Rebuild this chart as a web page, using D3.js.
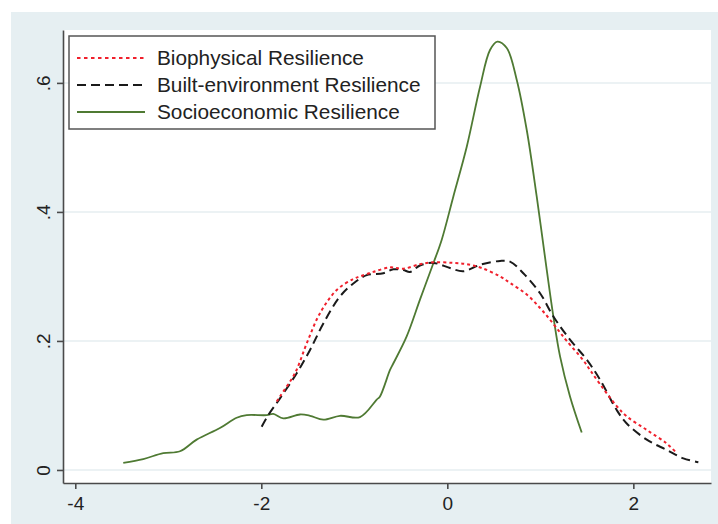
<!DOCTYPE html>
<html>
<head>
<meta charset="utf-8">
<script src="https://cdn.jsdelivr.net/npm/d3@7"></script>
<style>
  body { margin: 0; background: #fff; }
  svg text { font-family: "Liberation Sans", Arial, sans-serif; fill: #222; }
</style>
</head>
<body>
<svg id="chart" width="718" height="524"></svg>
<script>
// kernel density curves, [x, density]
var biophysical = [
  [-1.834, 0.106], [-1.799, 0.114], [-1.638, 0.150], [-1.512, 0.196], [-1.369, 0.243],
  [-1.189, 0.279], [-1.011, 0.296], [-0.939, 0.300], [-0.796, 0.307], [-0.616, 0.314],
  [-0.473, 0.312], [-0.294, 0.319], [-0.151, 0.322], [0.065, 0.321], [0.209, 0.319],
  [0.37, 0.313], [0.567, 0.300], [0.674, 0.290], [0.854, 0.272], [0.997, 0.251],
  [1.104, 0.233], [1.212, 0.213], [1.284, 0.200], [1.462, 0.170], [1.534, 0.155],
  [1.642, 0.133], [1.821, 0.099], [1.929, 0.083], [2.144, 0.062], [2.359, 0.041],
  [2.467, 0.026]
];
var builtEnv = [
  [-1.996, 0.067], [-1.925, 0.085], [-1.799, 0.111], [-1.619, 0.150], [-1.476, 0.186],
  [-1.333, 0.227], [-1.154, 0.269], [-1.011, 0.289], [-0.867, 0.302], [-0.688, 0.305],
  [-0.581, 0.311], [-0.473, 0.310], [-0.401, 0.307], [-0.294, 0.317], [-0.151, 0.321],
  [0.029, 0.313], [0.172, 0.308], [0.352, 0.318], [0.567, 0.324], [0.674, 0.323],
  [0.817, 0.305], [0.997, 0.274], [1.140, 0.238], [1.319, 0.202], [1.499, 0.171],
  [1.642, 0.140], [1.821, 0.093], [1.929, 0.072], [2.144, 0.047], [2.359, 0.031],
  [2.538, 0.018], [2.699, 0.012]
];
var socioeconomic = [
  [-3.484, 0.011], [-3.269, 0.017], [-3.054, 0.026], [-2.874, 0.029], [-2.695, 0.047],
  [-2.445, 0.065], [-2.265, 0.081], [-2.157, 0.085], [-1.942, 0.085], [-1.871, 0.087],
  [-1.763, 0.080], [-1.584, 0.086], [-1.476, 0.084], [-1.333, 0.078], [-1.154, 0.084],
  [-0.939, 0.082], [-0.759, 0.109], [-0.724, 0.114], [-0.616, 0.155], [-0.581, 0.165],
  [-0.437, 0.207], [-0.294, 0.264], [-0.151, 0.320], [-0.060, 0.357], [0.065, 0.424],
  [0.209, 0.501], [0.352, 0.594], [0.459, 0.651], [0.538, 0.664], [0.639, 0.654],
  [0.746, 0.605], [0.854, 0.527], [0.961, 0.424], [1.069, 0.310], [1.140, 0.238],
  [1.212, 0.176], [1.319, 0.114], [1.445, 0.058]
];
var seriesNames = ["Biophysical Resilience", "Built-environment Resilience", "Socioeconomic Resilience"];
var xTicks = [-4, -2, 0, 2];
var xTickLabels = ["-4", "-2", "0", "2"];
var yTicks = [0, 0.2, 0.4, 0.6];
var yTickLabels = ["0", ".2", ".4", ".6"];

var styles = [
  { color: "#f0202c", dash: "3,3", legendDash: "3.5,3.5" },
  { color: "#1a1a1a", dash: "9,5", legendDash: "9,5" },
  { color: "#4f7a33", dash: null, legendDash: null }
];
var allSeries = [biophysical, builtEnv, socioeconomic];

var svg = d3.select("#chart");

// outer graph region
svg.append("rect")
  .attr("x", 11).attr("y", 12).attr("width", 707).attr("height", 512)
  .attr("fill", "#e6eff2");

var x = d3.scaleLinear().domain([-4.132, 2.835]).range([63, 711]);
var y = d3.scaleLinear().domain([-0.0202, 0.682]).range([483, 30]);

// plot region
svg.append("rect")
  .attr("x", 63).attr("y", 30).attr("width", 648).attr("height", 453)
  .attr("fill", "#fff");

svg.append("g").selectAll("line")
  .data(yTicks)
  .enter().append("line")
  .attr("x1", 63).attr("x2", 711)
  .attr("y1", function(d) { return y(d); })
  .attr("y2", function(d) { return y(d); })
  .attr("stroke", "#e6eef0")
  .attr("stroke-width", 1.5);

var line = d3.line()
  .x(function(d) { return x(d[0]); })
  .y(function(d) { return y(d[1]); })
  .curve(d3.curveCatmullRom.alpha(0.5));

// socioeconomic first so the dashed lines sit on top
[2, 1, 0].forEach(function(i) {
  svg.append("path")
    .datum(allSeries[i])
    .attr("d", line)
    .attr("fill", "none")
    .attr("stroke", styles[i].color)
    .attr("stroke-width", i == 2 ? 1.8 : 2)
    .attr("stroke-dasharray", styles[i].dash);
});

// axes
var xAxis = svg.append("g")
  .attr("transform", "translate(0,483)")
  .call(d3.axisBottom(x).tickValues(xTicks).tickSize(6).tickSizeOuter(0)
    .tickFormat(function(d, i) { return xTickLabels[i]; }));
xAxis.selectAll("text").attr("font-size", 19).attr("dy", null).attr("y", 27);

var yAxis = svg.append("g")
  .attr("transform", "translate(63,0)")
  .call(d3.axisLeft(y).tickValues(yTicks).tickSize(6).tickSizeOuter(0)
    .tickFormat(function(d, i) { return yTickLabels[i]; }));
yAxis.selectAll("text")
  .attr("font-size", 19)
  .attr("x", null).attr("dy", null)
  .attr("text-anchor", "middle")
  .attr("transform", "translate(-13,0) rotate(-90)");

svg.selectAll(".domain, .tick line").attr("stroke", "#4a4a4a").attr("stroke-width", 1.6);
svg.selectAll(".tick text").attr("fill", "#222").style("font-family", "'Liberation Sans', Arial, sans-serif");

// legend
var legend = svg.append("g");
legend.append("rect")
  .attr("x", 69).attr("y", 36).attr("width", 366).attr("height", 93)
  .attr("fill", "#fff").attr("stroke", "#555").attr("stroke-width", 1.5);

seriesNames.forEach(function(name, i) {
  var cy = 58 + i * 27;
  legend.append("line")
    .attr("x1", 77).attr("x2", 145)
    .attr("y1", cy).attr("y2", cy)
    .attr("stroke", styles[i].color)
    .attr("stroke-width", 2)
    .attr("stroke-dasharray", styles[i].legendDash);
  legend.append("text")
    .attr("x", 157).attr("y", cy + 7)
    .attr("font-size", 20.8)
    .text(name);
});
</script>
</body>
</html>
